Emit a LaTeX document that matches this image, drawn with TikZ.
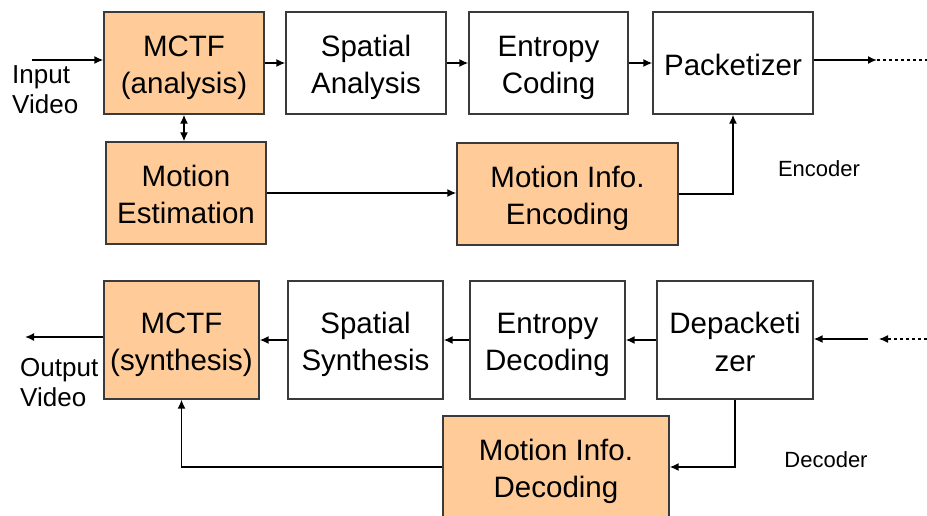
\documentclass[tikz,border=0pt]{standalone}
\usepackage{fontspec}
\setmainfont{Liberation Sans}
\usetikzlibrary{arrows.meta}
\definecolor{boxfill}{HTML}{FFCC99}
\definecolor{boxline}{HTML}{3A3A3A}

% strut giving every box text the same ascent/descent
\newcommand\bs{\rule[-0.2em]{0pt}{1.23em}}

\tikzset{
  blk/.style={draw=boxline, line width=1.3pt, align=center, inner sep=0pt,
              font=\fontsize{29.5}{35}\selectfont},
  hot/.style={blk, fill=boxfill},
  cold/.style={blk, fill=white},
  flow/.style={line width=1.6pt, -{Latex[length=9pt,width=8pt]}},
  both/.style={line width=1.6pt, {Latex[length=9pt,width=8pt]}-{Latex[length=9pt,width=8pt]}},
  chan/.style={line width=1.2pt, dash pattern=on 3pt off 3pt},
  lbl/.style={font=\fontsize{26}{30}\selectfont, align=left, inner sep=0pt},
  tag/.style={font=\fontsize{22}{26}\selectfont, inner sep=0pt}
}

\begin{document}
\begin{tikzpicture}[x=1pt,y=-1pt]
\useasboundingbox (0,0) rectangle (927,515);
\clip (0,0) rectangle (927,515);

% ---------- encoder ----------
\node[hot,  minimum width=160pt, minimum height=102pt] (mcta) at (184,63)   {\bs MCTF\\(analysis)\bs};
\node[cold, minimum width=160pt, minimum height=102pt] (spa)  at (366,63)   {\bs Spatial\\Analysis\bs};
\node[cold, minimum width=159pt, minimum height=102pt] (enc)  at (548.5,63) {\bs Entropy\\Coding\bs};
\node[cold, minimum width=160pt, minimum height=102pt] (pkt)  at (733,63)   {\bs Packetizer\bs};
\node[hot,  minimum width=160pt, minimum height=102pt] (me)   at (186,193)  {\bs Motion\\Estimation\bs};
\node[hot,  minimum width=221pt, minimum height=102pt] (mie)  at (567.5,194){\bs Motion Info.\\Encoding\bs};

\coordinate (inA)  at (32,60);
\coordinate (outA) at (877,60);
\coordinate (endA) at (927,60);

\draw[flow] (inA) -- (inA -| mcta.west);
\draw[flow] (mcta.east) -- (spa.west);
\draw[flow] (spa.east) -- (enc.west);
\draw[flow] (enc.east) -- (pkt.west);
\draw[flow] (outA -| pkt.east) -- (outA);
\draw[chan] (outA) -- (endA);
\draw[both] (mcta.south) -- (mcta.south |- me.north);
\draw[flow] (me.east) -- (me.east -| mie.west);
\draw[flow] (mie.east) -| (pkt.south);

\node[lbl, anchor=west] (inlbl) at (12,90) {Input\\Video};
\node[tag] (enclbl) at (819,169) {Encoder};

% ---------- decoder ----------
\node[hot,  minimum width=155pt, minimum height=118pt] (mcts) at (181.5,340) {\bs MCTF\\(synthesis)\bs};
\node[cold, minimum width=155pt, minimum height=118pt] (sps)  at (365.5,340) {\bs Spatial\\Synthesis\bs};
\node[cold, minimum width=155pt, minimum height=118pt] (edc)  at (547.5,340) {\bs Entropy\\Decoding\bs};
\node[cold, minimum width=156pt, minimum height=118pt] (dep)  at (735,340)   {\bs Depacketi\\zer\bs};
\node[hot,  minimum width=226pt, minimum height=102pt] (mid)  at (556,467)   {\bs Motion Info.\\Decoding\bs};

\coordinate (inB)  at (868,339);
\coordinate (chB)  at (879,339);
\coordinate (endB) at (927,339);
\coordinate (outB) at (25,337);

\draw[chan, -{Latex[length=9pt,width=8pt]}] (endB) -- (chB);
\draw[flow] (inB) -- (inB -| dep.east);
\draw[flow] (dep.west) -- (edc.east);
\draw[flow] (edc.west) -- (sps.east);
\draw[flow] (sps.west) -- (mcts.east);
\draw[flow] (outB -| mcts.west) -- (outB);
\draw[flow] (dep.south) |- (mid.east);
\draw[flow] (mid.west) -| (mcts.south);

\node[lbl, anchor=west] (outlbl) at (20,383) {Output\\Video};
\node[tag] (declbl) at (826,460) {Decoder};
\end{tikzpicture}
\end{document}
